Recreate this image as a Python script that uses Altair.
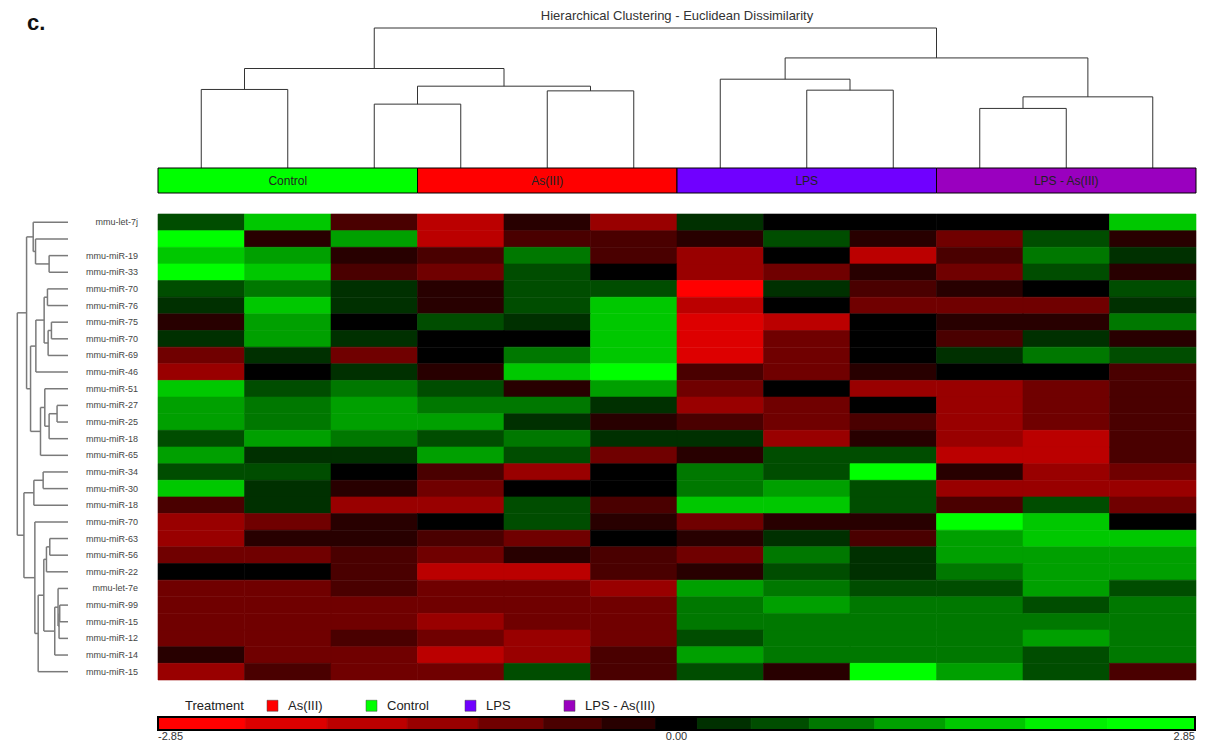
import altair as alt
import pandas as pd

FONT = "Liberation Sans"

# ---------------- data ----------------
panel_letter = "c."
chart_title = "Hierarchical Clustering - Euclidean Dissimilarity"

col_treatment = ["Control", "Control", "Control", "As(III)", "As(III)", "As(III)",
                 "LPS", "LPS", "LPS", "LPS - As(III)", "LPS - As(III)", "LPS - As(III)"]
treatment_order = ["As(III)", "Control", "LPS", "LPS - As(III)"]
treatment_colors = ["#FF0000", "#00FF00", "#7000FF", "#9A00BF"]

row_labels = ["mmu-let-7j", "", "mmu-miR-19", "mmu-miR-33", "mmu-miR-70", "mmu-miR-76",
              "mmu-miR-75", "mmu-miR-70", "mmu-miR-69", "mmu-miR-46", "mmu-miR-51",
              "mmu-miR-27", "mmu-miR-25", "mmu-miR-18", "mmu-miR-65", "mmu-miR-34",
              "mmu-miR-30", "mmu-miR-18", "mmu-miR-70", "mmu-miR-63", "mmu-miR-56",
              "mmu-miR-22", "mmu-let-7e", "mmu-miR-99", "mmu-miR-15", "mmu-miR-12",
              "mmu-miR-14", "mmu-miR-15"]

# standardized expression, one list per row (12 samples)
heat_values = [
    [0.57, 1.70, -0.57, -1.70, -0.26, -1.28, 0.26, 0.00, 0.00, 0.00, 0.00, 1.70],
    [2.60, -0.26, 1.28, -1.70, -0.57, -0.57, -0.26, 0.57, -0.26, -0.91, 0.57, -0.26],
    [1.70, 1.28, -0.26, -0.57, 0.91, -0.57, -1.28, 0.00, -1.70, -0.57, 0.91, 0.26],
    [2.60, 1.70, -0.57, -0.91, 0.57, 0.00, -1.28, -0.91, -0.26, -0.91, 0.57, -0.26],
    [0.57, 0.91, 0.26, -0.26, 0.57, 0.57, -2.60, 0.26, -0.57, -0.26, 0.00, 0.57],
    [0.26, 1.70, 0.26, -0.26, 0.57, 1.70, -1.70, 0.00, -0.91, -0.91, -0.91, 0.26],
    [-0.26, 1.28, 0.00, 0.57, 0.26, 1.65, -2.15, -1.70, 0.00, -0.26, -0.26, 0.91],
    [0.26, 1.28, 0.26, 0.00, 0.05, 1.70, -2.15, -0.91, 0.00, -0.57, 0.26, -0.26],
    [-0.91, 0.26, -0.80, 0.00, 0.91, 1.70, -2.15, -0.91, 0.00, 0.26, 0.91, 0.57],
    [-1.28, 0.00, 0.26, -0.20, 1.70, 2.60, -0.57, -0.91, -0.26, 0.00, 0.00, -0.57],
    [1.70, 0.57, 0.91, 0.57, -0.26, 1.28, -0.91, 0.00, -1.28, -1.28, -0.91, -0.57],
    [1.28, 0.91, 1.28, 0.91, 0.91, 0.26, -1.28, -0.91, 0.00, -1.28, -0.91, -0.57],
    [1.28, 0.91, 1.28, 1.28, 0.26, -0.26, -0.50, -0.91, -0.57, -1.28, -0.91, -0.57],
    [0.57, 1.28, 0.91, 0.57, 0.91, 0.26, 0.26, -1.28, -0.26, -1.28, -1.70, -0.57],
    [1.28, 0.26, 0.26, 1.28, 0.57, -0.91, -0.26, 0.57, 0.57, -1.70, -1.70, -0.57],
    [0.57, 0.57, 0.00, -0.57, -1.28, 0.00, 0.91, 0.57, 2.60, -0.26, -1.28, -0.91],
    [1.70, 0.26, -0.26, -0.91, 0.00, 0.00, 0.91, 1.28, 0.57, -1.28, -1.28, -1.28],
    [-0.57, 0.26, -1.28, -1.28, 0.57, -0.57, 1.70, 1.70, 0.57, -0.57, 0.57, -0.91],
    [-1.28, -0.91, -0.26, 0.00, 0.57, -0.26, -0.91, -0.26, -0.26, 2.60, 1.70, -0.05],
    [-1.28, -0.26, -0.26, -0.57, -0.91, 0.00, -0.26, 0.26, -0.57, 1.28, 1.70, 1.70],
    [-0.91, -0.91, -0.57, -0.91, -0.26, -0.50, -0.91, 0.91, 0.26, 1.28, 1.28, 1.28],
    [0.00, 0.00, -0.57, -1.70, -1.70, -0.57, -0.26, 0.57, 0.26, 0.91, 1.28, 1.28],
    [-0.91, -0.91, -0.57, -0.91, -0.91, -1.28, 1.28, 0.91, 0.57, 0.57, 1.28, 0.57],
    [-0.91, -0.91, -0.91, -0.91, -0.91, -0.91, 0.91, 1.28, 0.91, 0.91, 0.57, 0.91],
    [-0.91, -0.91, -0.91, -1.28, -0.91, -0.91, 0.91, 0.91, 0.91, 0.91, 0.91, 0.91],
    [-0.91, -0.91, -0.57, -0.91, -1.28, -0.91, 0.57, 0.91, 0.91, 0.91, 1.28, 0.91],
    [-0.26, -0.91, -0.91, -1.70, -1.28, -0.57, 1.28, 0.91, 0.91, 0.91, 0.57, 0.91],
    [-1.28, -0.57, -0.91, -0.91, 0.57, -0.57, 0.57, -0.26, 2.60, 1.28, 0.57, -0.57],
]

# linkage: (child a, child b, dissimilarity); new node ids continue after the leaves
col_merges = [
    (0, 1, 78.7), (2, 3, 64.0), (4, 5, 77.3), (13, 14, 82.0), (12, 15, 99.7),
    (7, 8, 78.0), (6, 17, 89.0), (9, 10, 59.7), (19, 11, 71.3), (18, 20, 110.3),
    (16, 21, 140.3),
]
row_merges = [
    (2, 3, 57), (1, 28, 98), (0, 29, 105),
    (4, 5, 62), (6, 7, 50), (32, 8, 60), (31, 33, 72), (34, 9, 97),
    (11, 12, 33), (36, 13, 57), (10, 37, 70), (38, 14, 83),
    (35, 39, 113), (30, 40, 125),
    (15, 16, 75), (42, 17, 103),
    (19, 20, 55), (44, 21, 65),
    (23, 24, 25), (46, 25, 27), (22, 47, 30), (48, 26, 40),
    (45, 49, 73), (50, 27, 90), (18, 51, 100),
    (43, 52, 133), (41, 53, 153),
]

color_thresholds = [-2.37, -1.92, -1.48, -1.09, -0.73, -0.41, -0.115,
                    0.115, 0.41, 0.73, 1.09, 1.48, 1.92, 2.37]
color_levels = ["#FF0000", "#DD0000", "#BB0000", "#990000", "#700000", "#4A0000", "#280000",
                "#000000", "#003000", "#004D00", "#007800", "#00A000", "#00C800", "#00F000",
                "#00FF00"]
scale_min, scale_max = -2.85, 2.85
scale_ticks = [-2.85, 0.00, 2.85]
scale_tick_text = ["-2.85", "0.00", "2.85"]

# ---------------- tables ----------------
def dendrogram_segments(merges, n_leaves):
    pos = {i: i + 0.5 for i in range(n_leaves)}
    hgt = {i: 0.0 for i in range(n_leaves)}
    segs = []
    for k, (a, b, h) in enumerate(merges):
        segs.append({"p1": pos[a], "h1": hgt[a], "p2": pos[a], "h2": h})
        segs.append({"p1": pos[b], "h1": hgt[b], "p2": pos[b], "h2": h})
        segs.append({"p1": pos[a], "h1": h, "p2": pos[b], "h2": h})
        pos[n_leaves + k] = (pos[a] + pos[b]) / 2
        hgt[n_leaves + k] = h
    return pd.DataFrame(segs)

n_cols = len(col_treatment)
n_rows = len(row_labels)

col_seg = dendrogram_segments(col_merges, n_cols)
row_seg = dendrogram_segments(row_merges, n_rows)

heat_df = pd.DataFrame([
    {"r0": r, "r1": r + 1, "c0": c, "c1": c + 1, "value": v}
    for r, vals in enumerate(heat_values) for c, v in enumerate(vals)
])
label_df = pd.DataFrame({"rc": [r + 0.5 for r in range(n_rows)], "label": row_labels})

blocks = []
for i, t in enumerate(col_treatment):
    if blocks and blocks[-1]["treatment"] == t:
        blocks[-1]["end"] = i + 1
    else:
        blocks.append({"treatment": t, "start": i, "end": i + 1})
treat_df = pd.DataFrame(blocks)
treat_df["mid"] = (treat_df["start"] + treat_df["end"]) / 2

edges = [scale_min] + color_thresholds + [scale_max]
cbar_df = pd.DataFrame({"lo": edges[:-1], "hi": edges[1:]})
cbar_df["mid"] = (cbar_df["lo"] + cbar_df["hi"]) / 2
cbar_frame = pd.DataFrame({"lo": [scale_min], "hi": [scale_max]})

# ---------------- scales (placement of each panel) ----------------
col_x = alt.Scale(domain=[0, n_cols], range=[150, 1188], nice=False, zero=False)
row_y = alt.Scale(domain=[0, n_rows], range=[206, 672], nice=False, zero=False)
cdend_y = alt.Scale(domain=[0, 140.3], range=[160, 20], nice=False, zero=False)
rdend_x = alt.Scale(domain=[0, 153], range=[60, 9.3], nice=False, zero=False)
cbar_x = alt.Scale(domain=[scale_min, scale_max], range=[150, 1187], nice=False, zero=False)
heat_scale = alt.Scale(type="threshold", domain=color_thresholds, range=color_levels)
treat_scale = alt.Scale(domain=treatment_order, range=treatment_colors)

# ---------------- layers ----------------
col_dendro = alt.Chart(col_seg).mark_rule(color="#333333", strokeWidth=1).encode(
    x=alt.X("p1:Q", scale=col_x, axis=None), x2="p2:Q",
    y=alt.Y("h1:Q", scale=cdend_y, axis=None), y2="h2:Q",
)

row_dendro = alt.Chart(row_seg).mark_rule(color="#7a7a7a", strokeWidth=1.5).encode(
    x=alt.X("h1:Q", scale=rdend_x, axis=None), x2="h2:Q",
    y=alt.Y("p1:Q", scale=row_y, axis=None), y2="p2:Q",
)

treat_bar = alt.Chart(treat_df).mark_rect(stroke="black", strokeWidth=1).encode(
    x=alt.X("start:Q", scale=col_x, axis=None), x2="end:Q",
    y=alt.value(160), y2=alt.value(185),
    color=alt.Color(
        "treatment:N", scale=treat_scale,
        legend=alt.Legend(
            title="Treatment", orient="none", legendX=177, legendY=691,
            direction="horizontal", titleOrient="left", gridAlign="all",
            symbolType="square", symbolSize=121, symbolStrokeColor="#444444",
            symbolStrokeWidth=0.5, labelFontSize=13, titleFontSize=13,
            titleFontWeight="normal", titleColor="#222222", labelColor="#222222",
            labelFont=FONT, titleFont=FONT, titlePadding=22, labelOffset=9,
            columnPadding=6, padding=0,
        ),
    ),
)

treat_text = alt.Chart(treat_df).mark_text(fontSize=12, color="#222222", font=FONT,
                                           baseline="middle").encode(
    x=alt.X("mid:Q", scale=col_x, axis=None), y=alt.value(172.5), text="treatment:N",
)

heat = alt.Chart(heat_df).mark_rect(strokeWidth=0.6).encode(
    x=alt.X("c0:Q", scale=col_x, axis=None), x2="c1:Q",
    y=alt.Y("r0:Q", scale=row_y, axis=None), y2="r1:Q",
    color=alt.Color("value:Q", scale=heat_scale, legend=None),
    stroke=alt.Stroke("value:Q", scale=heat_scale, legend=None),
)

row_text = alt.Chart(label_df).mark_text(align="right", baseline="middle", fontSize=9,
                                         color="#444444", font=FONT).encode(
    x=alt.value(130), y=alt.Y("rc:Q", scale=row_y, axis=None), text="label:N",
)

cbar = alt.Chart(cbar_df).mark_rect(strokeWidth=0.8).encode(
    x=alt.X("lo:Q", scale=cbar_x, axis=None), x2="hi:Q",
    y=alt.value(709), y2=alt.value(722),
    color=alt.Color("mid:Q", scale=heat_scale, legend=None),
    stroke=alt.Stroke("mid:Q", scale=heat_scale, legend=None),
)
cbar_border = alt.Chart(cbar_frame).mark_rect(fillOpacity=0, stroke="black", strokeWidth=2).encode(
    x=alt.X("lo:Q", scale=cbar_x, axis=None), x2="hi:Q",
    y=alt.value(709), y2=alt.value(722),
)

tick_layers = []
for val, txt, al in zip(scale_ticks, scale_tick_text, ["left", "center", "right"]):
    tick_layers.append(
        alt.Chart(pd.DataFrame({"v": [val], "t": [txt]})).mark_text(
            align=al, baseline="middle", fontSize=11, color="#333333", font=FONT
        ).encode(x=alt.X("v:Q", scale=cbar_x, axis=None), y=alt.value(728.5), text="t:N")
    )

title_layer = alt.Chart(pd.DataFrame({"t": [chart_title]})).mark_text(
    fontSize=13, color="#333333", font=FONT, baseline="middle"
).encode(x=alt.value(669), y=alt.value(8), text="t:N")

letter_layer = alt.Chart(pd.DataFrame({"t": [panel_letter]})).mark_text(
    fontSize=22, fontWeight="bold", color="#111111", font=FONT, align="left", baseline="alphabetic"
).encode(x=alt.value(19), y=alt.value(22), text="t:N")

chart = alt.layer(
    col_dendro, treat_bar, treat_text, heat, row_text, row_dendro,
    cbar, cbar_border, *tick_layers, title_layer, letter_layer,
).resolve_scale(
    x="independent", y="independent", color="independent", stroke="independent"
).properties(
    width=1191, height=736, padding=0, autosize=alt.AutoSizeParams(type="none")
).configure_view(stroke=None)

chart.save("out.html", embed_options={"renderer": "svg", "actions": False})
